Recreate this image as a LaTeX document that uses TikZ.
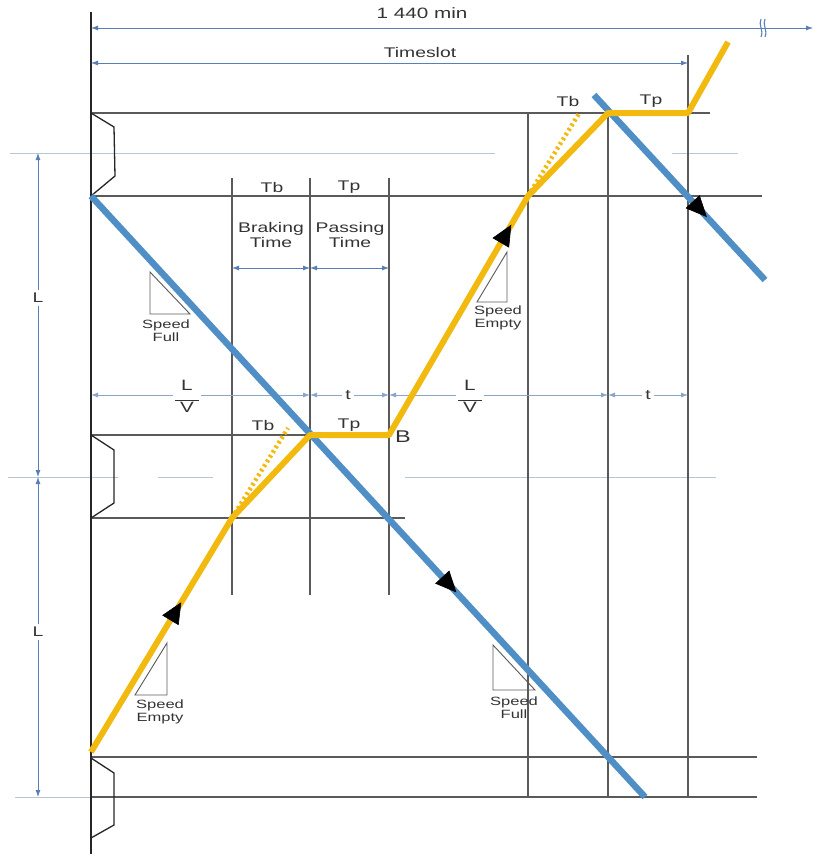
\documentclass[tikz,border=0pt]{standalone}
\usepackage{fontspec}
\setmainfont[FakeStretch=1.38]{Liberation Sans}
\usetikzlibrary{arrows.meta,decorations.markings}
\definecolor{fullblue}{HTML}{4F8FC6}
\definecolor{emptyyel}{HTML}{F2B90F}
\definecolor{dimblue}{HTML}{5A7FB5}
\definecolor{gridgrey}{HTML}{5A5A5A}
\definecolor{lightgrid}{HTML}{B9C6D3}
\definecolor{txt}{HTML}{333333}
\begin{document}
\begin{tikzpicture}[x=1pt,y=-1pt,
  grid/.style={draw=gridgrey,line width=1.1pt},
  axis/.style={draw=black!85,line width=1.8pt},
  station/.style={draw=black!85,line width=1.3pt,line join=round},
  lightline/.style={draw=lightgrid,line width=1pt},
  dim/.style={draw=dimblue,line width=0.8pt,{Latex[length=7pt,width=5pt]}-{Latex[length=7pt,width=5pt]}},
  fullline/.style={draw=fullblue,line width=6.5pt},
  emptyline/.style={draw=emptyyel,line width=6pt,line join=round},
  dotline/.style={draw=emptyyel,line width=4.5pt,dash pattern=on 2.5pt off 3pt},
  lbl/.style={font=\fontsize{14}{15}\selectfont,text=txt,inner sep=1pt},
  slbl/.style={font=\fontsize{12}{13}\selectfont,text=txt,inner sep=0pt,align=center},
  blbl/.style={font=\fontsize{14}{14.5}\selectfont,text=txt,inner sep=0pt,align=center},
  fracl/.style={font=\fontsize{15}{14}\selectfont,text=txt,fill=white,inner sep=2pt,align=center},
  spd/.style={draw=gridgrey,line width=0.9pt,line join=miter},
  dirarrow/.style={decoration={markings,mark=at position #1 with {\arrow[black,line width=0.6pt]{Triangle[length=21pt,width=19pt]}}},postaction={decorate}}
]
\useasboundingbox (0,0) rectangle (814,854);

% ---------- light guide lines ----------
\draw[lightline] (10,153) -- (495,153);
\draw[lightline] (672,153) -- (738,153);
\draw[lightline] (8,477) -- (118,477);
\draw[lightline] (158,477) -- (213,477);
\draw[lightline] (405,477) -- (716,477);
\draw[lightline] (15,797) -- (91,797);

% ---------- grid lines ----------
\draw[grid] (91,113) -- (710,113);
\draw[grid] (91,196) -- (762,196);
\draw[grid] (91,435) -- (392,435);
\draw[grid] (91,518) -- (405,518);
\draw[grid] (91,757) -- (757,757);
\draw[grid] (91,797) -- (757,797);

\draw[grid] (232,178) -- (232,595);
\draw[grid] (310,178) -- (310,595);
\draw[grid] (389,178) -- (389,595);
\draw[grid] (528,113) -- (528,797);
\draw[grid] (608,113) -- (608,797);
\draw[grid] (688,55) -- (688,797);

% ---------- main axis ----------
\draw[axis] (91,12) -- (91,854);

% ---------- stations ----------
\draw[station] (91,113) -- (114,127) -- (115,176) -- (91,196);
\draw[station] (91,435) -- (114,450) -- (114,503) -- (91,518);
\draw[station] (91,758) -- (114,773) -- (114,825) -- (91,838);

% ---------- top dimensions ----------
\node[lbl,font=\fontsize{15}{16}\selectfont] (total) at (422,13) {1 440 min};
\coordinate (tl) at (91,28);
\coordinate (tr) at (813,28);
\draw[dim] (tl) -- (tr);
\draw[dimblue,line width=1.1pt] (761,19) .. controls (758,25) and (764,30) .. (761,37);
\draw[dimblue,line width=1.1pt] (765,19) .. controls (762,25) and (768,30) .. (765,37);
\node[lbl] (slot) at (420,52) {Timeslot};
\coordinate (sl) at (91,63);
\coordinate (sr) at (688,63);
\draw[dim] (sl) -- (sr);

% ---------- left L dimensions ----------
\coordinate (L1) at (38,153);
\coordinate (L2) at (38,477);
\coordinate (L3) at (38,797);
\draw[dim] (L1) -- (L2);
\draw[dim] (L2) -- (L3);
\node[lbl,fill=white,inner sep=3pt] (Ltop) at (38,298) {L};
\node[lbl,fill=white,inner sep=3pt] (Lbot) at (38,632) {L};

% ---------- Tb / Tp column labels ----------
\node[lbl] (tb1) at (272,187) {Tb};
\node[lbl] (tp1) at (349,187) {Tp};
\node[blbl] (brk) at (271,235) {Braking\\Time};
\node[blbl] (pas) at (350,235) {Passing\\Time};
\coordinate (c1) at (232,268);
\coordinate (c2) at (310,268);
\coordinate (c3) at (389,268);
\draw[dim] (c1) -- (c2);
\draw[dim] (c2) -- (c3);

% ---------- L/V and t dimensions ----------
\coordinate (d0) at (91,395);
\coordinate (d1) at (310,395);
\coordinate (d2) at (389,395);
\coordinate (d3) at (608,395);
\coordinate (d4) at (688,395);
\draw[dim,draw=dimblue!70] (d0) -- (d1);
\draw[dim,draw=dimblue!70] (d1) -- (d2);
\draw[dim,draw=dimblue!70] (d2) -- (d3);
\draw[dim,draw=dimblue!70] (d3) -- (d4);
\node[fracl] (lv1) at (187,396) {L\\[-3pt]\rule{24pt}{0.9pt}\\[-3pt]V};
\node[lbl,fill=white,inner sep=3pt] (t1) at (348,395) {t};
\node[fracl] (lv2) at (470,396) {L\\[-3pt]\rule{24pt}{0.9pt}\\[-3pt]V};
\node[lbl,fill=white,inner sep=3pt] (t2) at (648,395) {t};

% ---------- blue (speed full) lines ----------
\coordinate (bA) at (91,196);
\coordinate (bB) at (645,797);
\coordinate (bC) at (594,95);
\coordinate (bD) at (765,280);
\draw[fullline,dirarrow=0.66] (bA) -- (bB);
\draw[fullline,dirarrow=0.66] (bC) -- (bD);

% ---------- yellow (speed empty) line ----------
\coordinate (y0) at (91,752);
\coordinate (y1) at (232,518);
\coordinate (y2) at (310,435);
\coordinate (y3) at (389,435);
\coordinate (y4) at (528,196);
\coordinate (y5) at (608,113);
\coordinate (y6) at (688,113);
\coordinate (y7) at (728,42);
\coordinate (yd1) at (288,428);
\coordinate (yd2) at (580,112);
\draw[dotline] (y1) -- (yd1);
\draw[dotline] (y4) -- (yd2);
\draw[emptyline] (y0) -- (y1) -- (y2) -- (y3) -- (y4) -- (y5) -- (y6) -- (y7);
\path[dirarrow=0.64] (y0) -- (y1);
\path[dirarrow=0.88] (y3) -- (y4);

% ---------- labels near B ----------
\node[lbl] (tb2) at (263,425) {Tb};
\node[lbl] (tp2) at (349,425) {Tp};
\node[font=\fontsize{17}{18}\selectfont,text=txt,inner sep=0pt] (B) at (403,437) {B};
\node[lbl] (tb3) at (568,101) {Tb};
\node[lbl] (tp3) at (651,101) {Tp};

% ---------- speed triangles ----------
\draw[spd] (150,272) -- (150,314) -- (190,314) -- cycle;
\node[slbl] (sf1) at (166,331) {Speed\\Full};
\draw[spd] (507,252) -- (477,302) -- (507,302) -- cycle;
\node[slbl] (se1) at (498,318) {Speed\\Empty};
\draw[spd] (167,643) -- (135,695) -- (167,695) -- cycle;
\node[slbl] (se2) at (160,712) {Speed\\Empty};
\draw[spd] (493,645) -- (493,690) -- (535,690) -- cycle;
\node[slbl] (sf2) at (514,708) {Speed\\Full};

\end{tikzpicture}
\end{document}
